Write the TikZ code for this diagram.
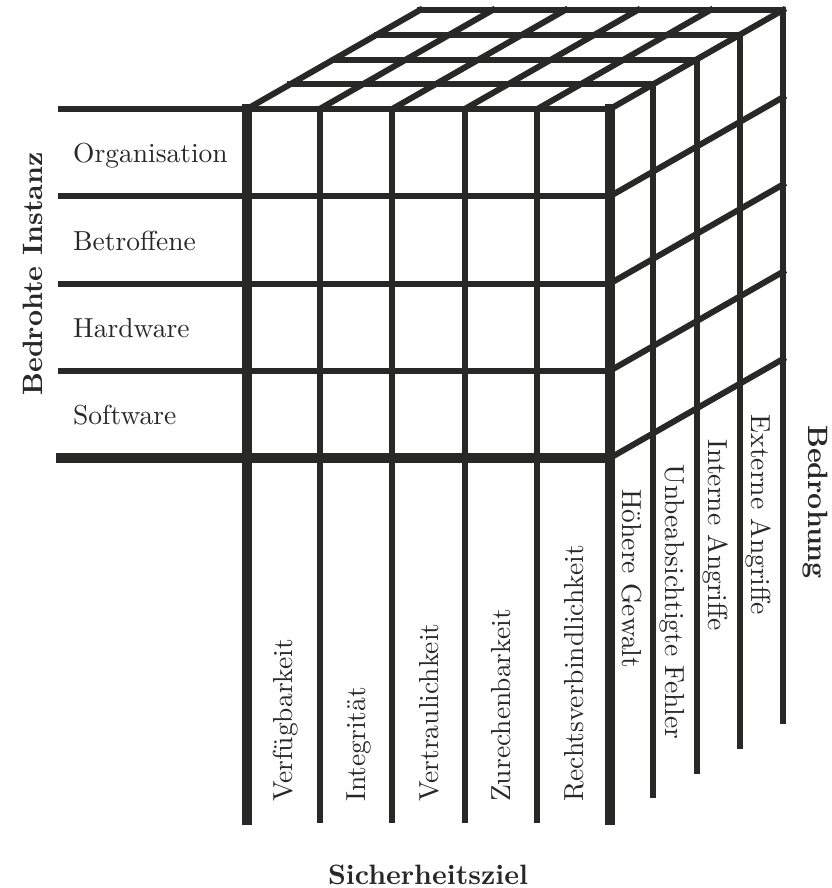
\documentclass[tikz,border=0pt]{standalone}
\usepackage{fontspec}
\setmainfont{lmroman10-regular}[Extension=.otf, BoldFont=lmroman10-bold]
\definecolor{ink}{RGB}{40,40,38}
\tikzset{
  thingrid/.style={line width=6bp, draw=ink, line cap=rect},
  thickgrid/.style={line width=10bp, draw=ink, line cap=rect},
  lbl/.style={font=\fontsize{27.5bp}{30bp}\selectfont, text=ink, inner sep=0pt},
  axislbl/.style={font=\fontsize{28bp}{30bp}\selectfont\bfseries, text=ink, inner sep=0pt},
}
\begin{document}
\begin{tikzpicture}[x=1bp,y=-1bp]
\useasboundingbox (0,0) rectangle (832,888);
\fill[white] (0,0) rectangle (832,888);

% coordinates
\foreach \i/\x in {0/247,1/319.6,2/392.2,3/464.8,4/537.4,5/610} {
  \coordinate (ft\i) at (\x,109);
  \coordinate (fb\i) at (\x,820);
  \coordinate (bt\i) at (\x+173,10);
}
\foreach \j/\y in {0/109,1/196.25,2/283.5,3/370.75,4/458} {
  \coordinate (rl\j) at (61,\y);
  \coordinate (rr\j) at (610,\y);
  \coordinate (sb\j) at (783,\y-99);
}
\foreach \k in {0,...,4} {
  \coordinate (dl\k) at (247+43.25*\k,109-24.75*\k);
  \coordinate (dr\k) at (610+43.25*\k,109-24.75*\k);
  \coordinate (db\k) at (610+43.25*\k,820-24.75*\k);
}

% thin grid lines
\foreach \i in {1,...,4} { \draw[thingrid] (ft\i) -- (fb\i); }
\foreach \j in {0,...,3} { \draw[thingrid] (rl\j) -- (rr\j); }
\foreach \k in {1,...,4} { \draw[thingrid] (dl\k) -- (dr\k); }
\foreach \i in {0,...,5} { \draw[thingrid] (ft\i) -- (bt\i); }
\foreach \k in {1,...,4} { \draw[thingrid] (dr\k) -- (db\k); }
\foreach \j in {1,...,4} { \draw[thingrid] (rr\j) -- (sb\j); }

% thick edges
\draw[thickgrid] (ft0) -- (fb0);
\draw[thickgrid] (ft5) -- (fb5);
\draw[thickgrid] (rl4) -- (rr4);

% row labels
\node[lbl, anchor=base west] (org) at (73,162.5) {Organisation};
\node[lbl, anchor=base west] (betr) at (73,250) {Betroffene};
\node[lbl, anchor=base west] (hard) at (73,337) {Hardware};
\node[lbl, anchor=base west] (soft) at (73,424) {Software};

% column labels
\node[lbl, rotate=90, anchor=base west] (verf) at (292.8,802) {Verfügbarkeit};
\node[lbl, rotate=90, anchor=base west] (inte) at (365.4,802) {Integrität};
\node[lbl, rotate=90, anchor=base west] (vert) at (438,802) {Vertraulichkeit};
\node[lbl, rotate=90, anchor=base west] (zure) at (510.6,802) {Zurechenbarkeit};
\node[lbl, rotate=90, anchor=base west] (rech) at (583.2,802) {Rechtsverbindlichkeit};

% depth labels
\node[lbl, rotate=-90, anchor=base west] (hoeh) at (622.1,489) {Höhere Gewalt};
\node[lbl, rotate=-90, anchor=base west] (unbe) at (665.4,464.25) {Unbeabsichtigte Fehler};
\node[lbl, rotate=-90, anchor=base west] (intA) at (708.6,439.5) {Interne Angriffe};
\node[lbl, rotate=-90, anchor=base west] (extA) at (751.9,414.75) {Externe Angriffe};

% axis titles
\node[axislbl, rotate=90, anchor=base] (binst) at (42,274) {Bedrohte Instanz};
\node[axislbl, rotate=-90, anchor=base] (bedr) at (808,502) {Bedrohung};
\node[axislbl, anchor=base] (sziel) at (428,884) {Sicherheitsziel};
\end{tikzpicture}
\end{document}
